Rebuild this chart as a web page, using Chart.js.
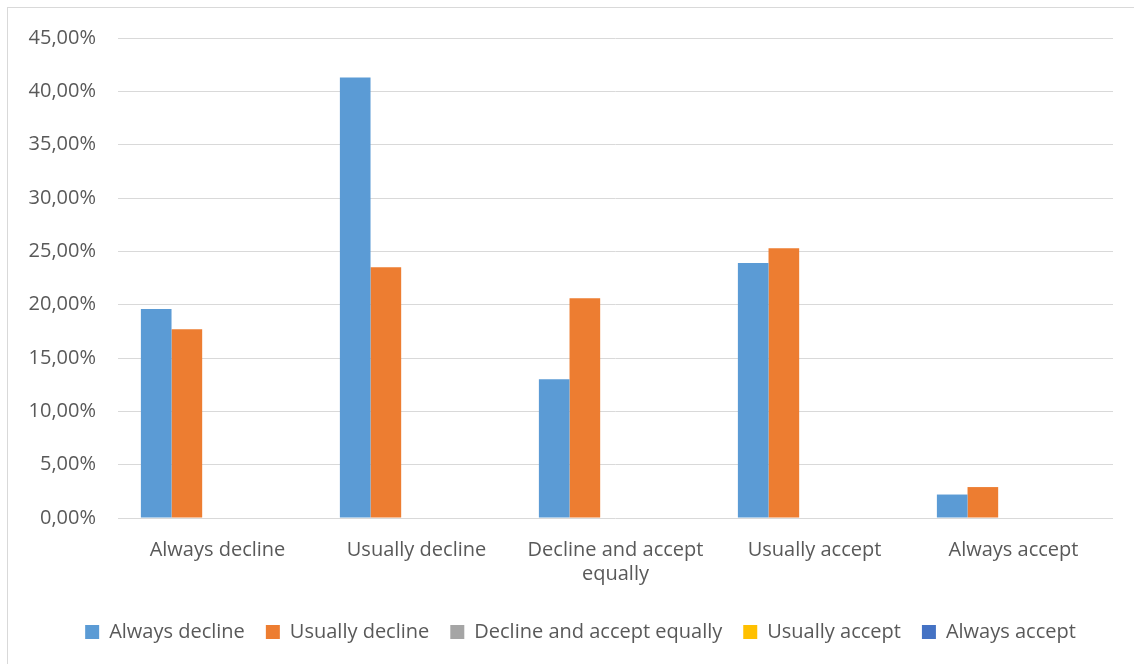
<!DOCTYPE html>
<html>
<head>
<meta charset="utf-8">
<script src="https://cdn.jsdelivr.net/npm/chart.js@4"></script>
<style>
  body { margin: 0; background: #fff; }
  #wrap { position: relative; width: 1134px; height: 664px; overflow: hidden; }
  #frame { position: absolute; left: 7px; top: 7px; width: 1140px; height: 700px; border: 1px solid #d9d9d9; pointer-events: none; }
  canvas { position: absolute; left: 0; top: 0; }
</style>
</head>
<body>
<div id="wrap">
  <canvas id="barChart" width="1134" height="664"></canvas>
  <div id="frame"></div>
</div>
<script>
'use strict';

// categories on the x axis
const categories = ['Always decline', 'Usually decline', ['Decline and accept', 'equally'], 'Usually accept', 'Always accept'];
// series names (legend)
const seriesNames = ['Always decline', 'Usually decline', 'Decline and accept equally', 'Usually accept', 'Always accept'];
// values in percent
const alwaysDecline = [19.6, 41.3, 13.0, 23.9, 2.2];
const usuallyDecline = [17.7, 23.5, 20.6, 25.3, 2.9];
const declineAcceptEqually = [0, 0, 0, 0, 0];
const usuallyAccept = [0, 0, 0, 0, 0];
const alwaysAccept = [0, 0, 0, 0, 0];
const seriesColors = ['#5b9bd5', '#ed7d31', '#a5a5a5', '#ffc000', '#4472c4'];
const yTicks = [0, 5, 10, 15, 20, 25, 30, 35, 40, 45];

const seriesValues = [alwaysDecline, usuallyDecline, declineAcceptEqually, usuallyAccept, alwaysAccept];
const textColor = '#595959';
const font = { family: '"Open Sans", "Liberation Sans", sans-serif', size: 20 };

// the legend sits a bit right of centre in the original
const legendShift = {
  id: 'legendShift',
  afterLayout: function(chart) {
    chart.legend.left += 24;
    chart.legend.right += 24;
  },
};

function BarChart() {
  let context = document.querySelector('#barChart').getContext('2d');
  new Chart(context, {
    type: 'bar',
    data: {
      labels: categories,
      datasets: seriesNames.map(function(name, i) {
        return {
          label: name,
          data: seriesValues[i],
          backgroundColor: seriesColors[i],
          borderWidth: 0,
          categoryPercentage: 0.77,
          barPercentage: 1.0,
        };
      }),
    },
    options: {
      responsive: false,
      animation: false,
      layout: { padding: { top: 38, right: 21, bottom: 12, left: 0 } },
      plugins: {
        legend: {
          position: 'bottom',
          labels: {
            color: textColor,
            font: font,
            boxWidth: 14,
            boxHeight: 14,
            padding: 21,
          },
        },
        tooltip: { enabled: false },
      },
      scales: {
        x: {
          afterFit: function(scale) { scale.height += 3; },
          grid: { display: false },
          border: { display: false },
          ticks: { color: textColor, font: font, padding: 12, maxRotation: 0, autoSkip: false },
        },
        y: {
          min: 0,
          max: 45,
          afterBuildTicks: function(scale) {
            scale.ticks = yTicks.map(function(v) { return { value: v }; });
          },
          afterFit: function(scale) { scale.width = 118; },
          grid: { color: '#d9d9d9', lineWidth: 1, drawTicks: false },
          border: { display: false },
          ticks: {
            color: textColor,
            font: font,
            padding: 22,
            callback: function(v) { return v.toFixed(2).replace('.', ',') + '%'; },
          },
        },
      },
    },
    plugins: [legendShift],
  });
}

BarChart();
</script>
</body>
</html>
